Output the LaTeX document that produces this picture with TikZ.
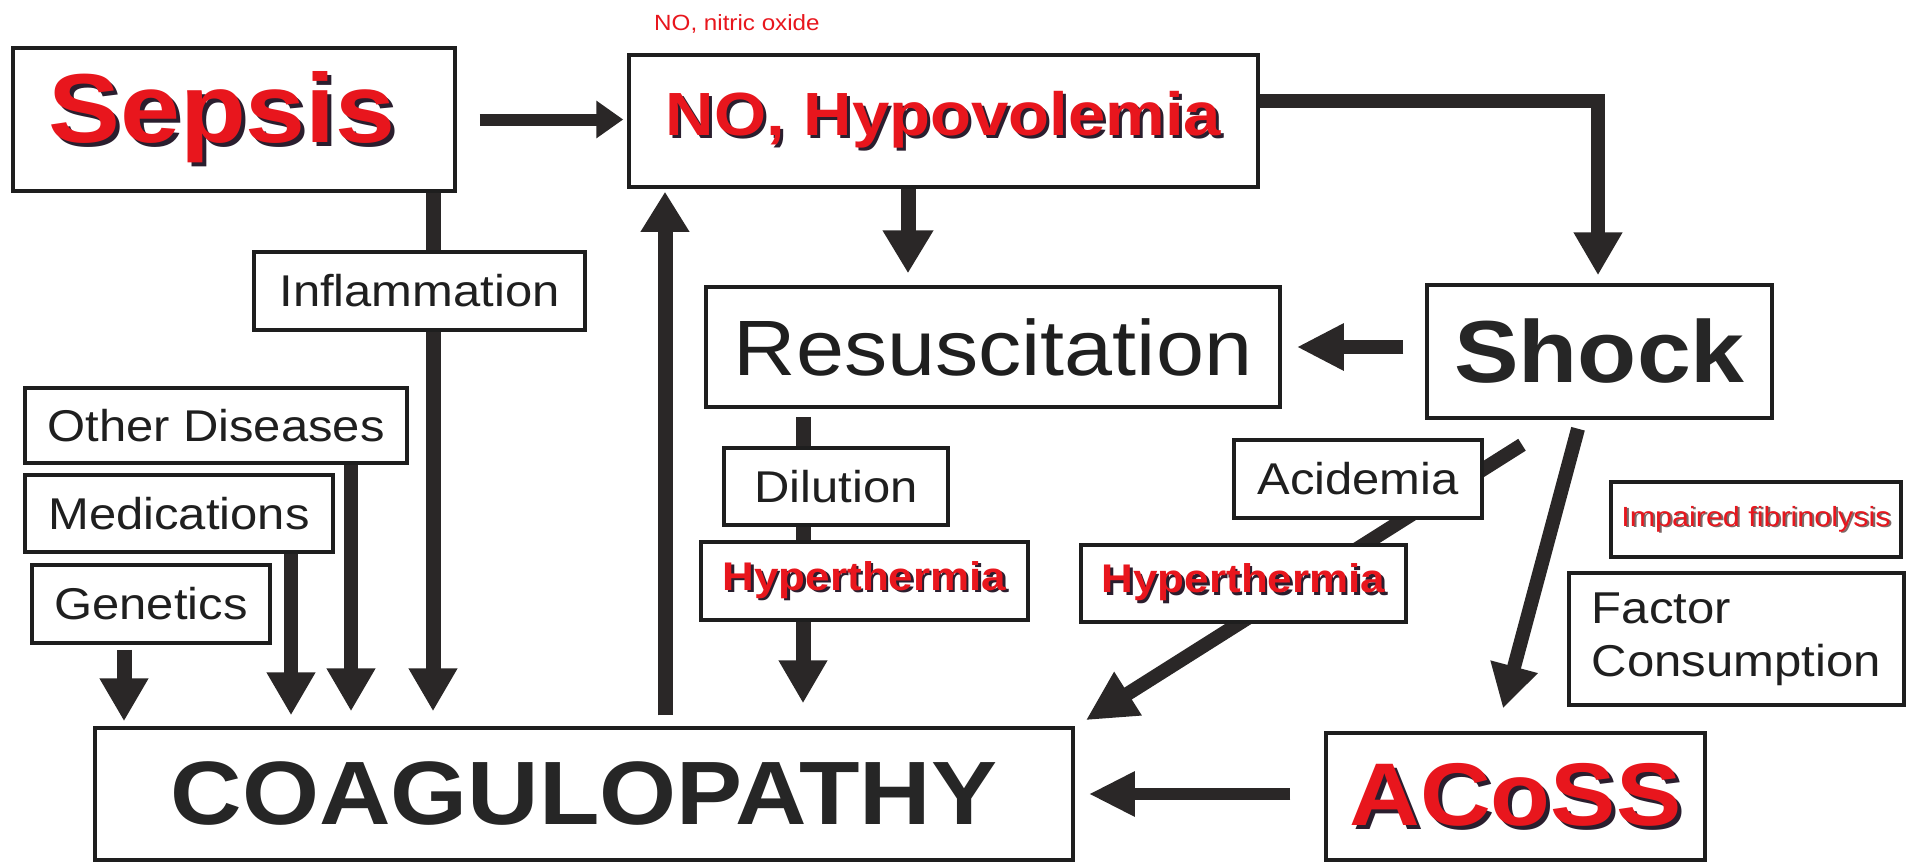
\documentclass[tikz,border=0pt]{standalone}
\usepackage{fontspec}
\setmainfont{Liberation Sans}[FakeStretch=1.1]
\usetikzlibrary{arrows.meta}
\definecolor{redc}{HTML}{E8161D}
\definecolor{shadowc}{HTML}{2A1E2E}
\definecolor{linec}{HTML}{2A2727}
\definecolor{boxc}{HTML}{1E1E1E}
\definecolor{ghostc}{HTML}{7A6A6A}
\pgfdeclarelayer{bg}
\pgfsetlayers{bg,main}
\newcommand{\shadowed}[2]{\makebox[0pt][l]{\hspace*{#1}\raisebox{-#1}{\textcolor{shadowc}{#2}}}\textcolor{redc}{#2}}
\newcommand{\ghosted}[1]{\makebox[0pt][l]{\hspace*{2pt}\raisebox{-1pt}{\textcolor{ghostc}{#1}}}\textcolor{redc}{#1}}
\newcommand{\setfs}[1]{\fontsize{#1}{#1}\selectfont}
\tikzset{
  box/.style={draw=boxc, line width=3.5pt, fill=white, inner sep=0pt, rectangle},
  lbl/.style={box, font=\setfs{44.5}, text=black!88},
  conn/.style={draw=linec, line width=14pt, line join=miter, -{Triangle[width=46pt,length=43pt]}},
  thinconn/.style={draw=linec, line width=12pt, -{Triangle[width=36pt,length=27pt]}},
}
\begin{document}
\begin{tikzpicture}[x=1pt,y=-1pt]
\useasboundingbox (0,0) rectangle (1906,863);
% top note
\node[font=\setfs{22}, text=redc, anchor=west, inner sep=0pt] (note) at (654,24) {NO, nitric oxide};
% main boxes
\node[box, minimum width=442pt, minimum height=143pt, font=\bfseries\setfs{98}] (sepsis) at (234,119.5) {\shadowed{4pt}{Sepsis}\hspace*{24pt}};
\node[box, minimum width=629pt, minimum height=132pt, font=\bfseries\setfs{61}] (no) at (943.5,121) {\shadowed{3pt}{NO, Hypovolemia}};
\node[lbl, minimum width=331pt, minimum height=78pt] (infl) at (419.5,291) {Inflammation};
\node[box, minimum width=574pt, minimum height=120pt, font=\setfs{78.5}, text=black!88] (resus) at (993,347) {Resuscitation};
\node[box, minimum width=345pt, minimum height=133pt, font=\bfseries\setfs{88}, text=black!85] (shock) at (1599.5,351.5) {Shock};
\node[lbl, minimum width=382pt, minimum height=75pt] (otherd) at (216,425.5) {Other Diseases};
\node[lbl, minimum width=308pt, minimum height=77pt] (medic) at (179,513.5) {Medications};
\node[lbl, minimum width=238pt, minimum height=78pt] (genet) at (151,604) {Genetics};
\node[lbl, minimum width=224pt, minimum height=77pt] (dilut) at (836,486.5) {Dilution};
\node[box, minimum width=327pt, minimum height=78pt, font=\bfseries\setfs{40}] (hypA) at (864.5,581) {\shadowed{2.5pt}{Hyperthermia}};
\node[lbl, minimum width=248pt, minimum height=78pt] (acid) at (1358,479) {Acidemia};
\node[box, minimum width=325pt, minimum height=77pt, font=\bfseries\setfs{40}] (hypB) at (1243.5,583.5) {\shadowed{2.5pt}{Hyperthermia}};
\node[box, minimum width=290pt, minimum height=75pt, font=\setfs{27.7}] (impf) at (1756,519.5) {\ghosted{Impaired fibrinolysis}};
\node[box, minimum width=335pt, minimum height=132pt, font=\fontsize{44.6}{53}\selectfont, text=black!88, align=left] (factc) at (1736.5,639) {Factor\\Consumption};
\node[box, minimum width=978pt, minimum height=132pt, font=\bfseries\setfs{90}, text=black!85] (coag) at (584,794) {COAGULOPATHY};
\node[box, minimum width=379pt, minimum height=127pt, font=\bfseries\setfs{89}] (acoss) at (1515.5,796.5) {\shadowed{4pt}{ACoSS}};
% column coordinates
\coordinate (xSep) at (433,0);
\coordinate (xOth) at (351,0);
\coordinate (xMed) at (291,0);
\coordinate (xGen) at (124,0);
\coordinate (xUp) at (665,0);
\coordinate (xRes) at (803,0);
\coordinate (xNoD) at (908,0);
\coordinate (xShk) at (1598,0);
\begin{pgfonlayer}{bg}
\fill[white] (0,0) rectangle (1906,863);
\draw[thinconn] ([xshift=23pt]sepsis.east) -- ([xshift=-4pt]no.west |- sepsis.east);
\draw[conn] ([yshift=20pt]no.east) -| ([yshift=8pt]shock.north -| xShk);
\draw[conn, line width=15pt, -{Triangle[width=48pt,length=43pt]}] (no.south -| xNoD) -- ([yshift=12pt]resus.north -| xNoD);
\draw[conn, line width=15pt, -{Triangle[width=46pt,length=40pt]}] ([yshift=11pt]coag.north -| xUp) -- ([yshift=-3pt]no.south -| xUp);
\draw[conn, line width=14pt, -{Triangle[width=44pt,length=47pt]}] ([xshift=-22pt]shock.west |- resus.east) -- ([xshift=15pt]resus.east);
\draw[conn, line width=15pt] (sepsis.south -| xSep) -- ([yshift=15pt]coag.north -| xSep);
\draw[conn] (otherd.south -| xOth) -- ([yshift=15pt]coag.north -| xOth);
\draw[conn] (medic.south -| xMed) -- ([yshift=11pt]coag.north -| xMed);
\draw[conn, line width=15pt] ([yshift=-5pt]genet.south -| xGen) -- ([yshift=5pt]coag.north -| xGen);
\draw[conn, line width=15pt] ([yshift=-8pt]resus.south -| xRes) -- ([yshift=23pt]coag.north -| xRes);
\draw[conn] ([shift={(-21.5pt,-9pt)}]shock.south) -- ([shift={(-12.5pt,23pt)}]acoss.north);
\draw[conn, -{Triangle[width=48pt,length=50pt]}] ([shift={(-77.5pt,-25pt)}]shock.south) -- ([shift={(11pt,6pt)}]coag.north east);
\draw[conn, line width=12pt, -{Triangle[width=42pt,length=46pt]}] ([xshift=-34pt]acoss.west |- coag.east) -- ([xshift=14pt]coag.east);
\end{pgfonlayer}
\end{tikzpicture}
\end{document}
